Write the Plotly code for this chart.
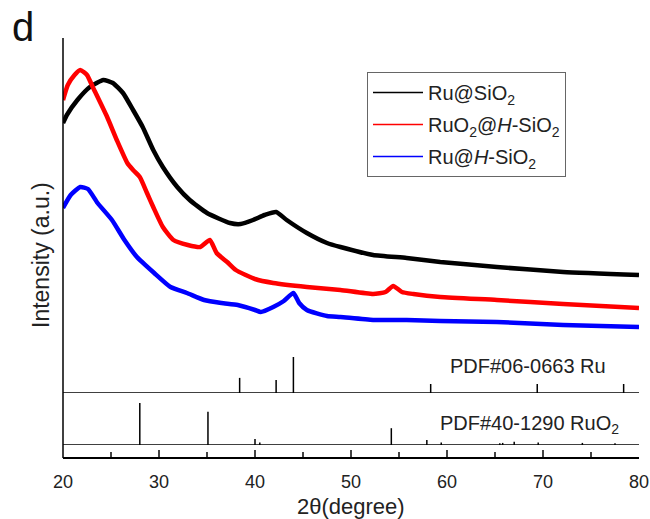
import plotly.graph_objects as go

# ---- data ----
black_x = [20.0, 20.4, 21.5, 22.8, 24.2, 25.2, 26.25, 27.3, 28.3, 29.4, 30.4, 31.9, 33.2, 35.0, 37.4,
           38.5, 39.8, 41.0, 42.2, 43.3, 45.4, 47.5, 48.9, 52.3, 55.8, 59.3, 65.2, 72.1, 80.0]
black_y = [270, 278, 293, 306, 313, 310, 300, 283, 266, 243, 226, 206, 193, 180, 170,
           169, 173, 178, 181, 173, 160, 150, 146, 138, 135, 131, 126, 121, 118]

red_x = [20.0, 20.5, 21.2, 21.8, 22.5, 23.1, 24.6, 25.6, 26.7, 27.3, 28.0, 28.75, 29.4, 30.4, 31.5,
         33.0, 34.3, 35.3, 36.0, 37.1, 38.0, 40.0, 41.9, 45.4, 48.9, 52.3, 53.6, 54.4, 55.3, 56.5,
         59.3, 65.2, 72.1, 80.0]
red_y = [293, 308, 318, 323, 318, 306, 276, 253, 230, 223, 216, 200, 186, 166, 153,
         148, 146, 153, 140, 131, 123, 114, 110, 106, 103, 99, 101, 107, 101, 99,
         96, 93, 89, 85]

blue_x = [20.0, 20.8, 21.8, 22.6, 23.6, 25.1, 26.4, 27.7, 29.5, 31.2, 32.9, 34.7, 36.5, 38.2, 40.0,
          40.6, 41.9, 43.0, 44.0, 44.6, 45.4, 47.5, 48.9, 52.3, 55.8, 59.3, 65.2, 72.1, 80.0]
blue_y = [185, 198, 206, 204, 190, 173, 153, 136, 120, 106, 100, 93, 90, 88, 83,
          81, 86, 92, 100, 90, 83, 77, 76, 73, 73, 72, 71, 68, 66]

ru_pos = [38.4, 42.2, 44.0, 58.3, 69.4, 78.4]
ru_int = [42, 36, 100, 25, 25, 25]

ruo2_pos = [28.0, 35.1, 40.0, 40.5, 54.2, 57.9, 59.4, 65.5, 65.8, 67.0, 69.5, 74.1, 77.5]
ruo2_int = [100, 79, 14, 6, 40, 12, 6, 4, 5, 8, 6, 5, 4]

series_names = ["Ru@SiO<sub>2</sub>", "RuO<sub>2</sub>@<i>H</i>-SiO<sub>2</sub>", "Ru@<i>H</i>-SiO<sub>2</sub>"]
series_colors = ["#000000", "#ff0000", "#0000ff"]
x_ticks = [20, 30, 40, 50, 60, 70, 80]

FONT = "Arial, Liberation Sans, sans-serif"
TXT = "#222222"

# the page body margin is removed below, so figure pixels == target pixels
PL, PR, PT, PB = 63, 639, 38, 458          # plot area in target pixels
W, H = PR - PL, PB - PT


def px(x):
    return (x - PL) / W


def py(y):
    return (PB - y) / H


def sticks(pos, inten):
    xs, ys = [], []
    for p, h in zip(pos, inten):
        xs += [p, p, None]
        ys += [0, h, None]
    return xs, ys


fig = go.Figure()

for xs, ys, c in zip([black_x, red_x, blue_x], [black_y, red_y, blue_y], series_colors):
    fig.add_trace(go.Scatter(x=xs, y=ys, mode="lines",
                             line=dict(color=c, width=4.5, shape="spline", smoothing=0.5),
                             showlegend=False, hoverinfo="skip", yaxis="y"))

# legend-only entries (thin lines)
for i, (n, c) in enumerate(zip(series_names, series_colors)):
    fig.add_trace(go.Scatter(x=[None], y=[None], mode="lines", line=dict(color=c, width=1.5),
                             name=n, legendgroup=f"g{i}", showlegend=True))

sx, sy = sticks(ru_pos, ru_int)
fig.add_trace(go.Scatter(x=sx, y=sy, mode="lines", line=dict(color="black", width=1.5),
                         showlegend=False, yaxis="y2", hoverinfo="skip"))
sx, sy = sticks(ruo2_pos, ruo2_int)
fig.add_trace(go.Scatter(x=sx, y=sy, mode="lines", line=dict(color="black", width=1.5),
                         showlegend=False, yaxis="y3", hoverinfo="skip"))

d_ru = py(393)
d_ruo2 = py(445)

fig.update_layout(
    width=650, height=519,
    margin=dict(l=PL, r=650 - PR, t=PT, b=519 - PB, autoexpand=False),
    paper_bgcolor="white", plot_bgcolor="white",
    font=dict(family=FONT, color=TXT, size=18),
    xaxis=dict(range=[20, 80], tickvals=x_ticks, ticks="inside", ticklen=7, tickwidth=1.5,
               anchor="free", position=0,
               showline=True, linecolor="black", linewidth=1.5, showgrid=False, zeroline=False,
               minor=dict(dtick=5, ticks="inside", ticklen=5, tickwidth=1.5, showgrid=False),
               ticklabelstandoff=8,
               tickfont=dict(size=18, family=FONT, color=TXT)),
    yaxis=dict(domain=[d_ru, 1], range=[0, 355], showticklabels=False, ticks="", showgrid=False,
               zeroline=False, showline=False),
    yaxis2=dict(domain=[d_ru, d_ru + 40 / H], range=[0, 111.1], showticklabels=False, ticks="",
                showgrid=False, zeroline=False, showline=False),
    yaxis3=dict(domain=[d_ruo2, d_ruo2 + 46 / H], range=[0, 109.5], showticklabels=False, ticks="",
                showgrid=False, zeroline=False, showline=False),
    legend=dict(x=px(367), y=py(72), xanchor="left", yanchor="top",
                bordercolor="#666666", borderwidth=1, bgcolor="white",
                font=dict(size=20, family=FONT, color=TXT),
                itemwidth=50, tracegroupgap=3, traceorder="grouped"),
    showlegend=True,
)

# baselines and left axis line
fig.add_shape(type="line", xref="x domain", x0=0, x1=1, yref="y2", y0=0, y1=0,
              line=dict(color="black", width=1.5))
fig.add_shape(type="line", xref="x domain", x0=0, x1=1, yref="y3", y0=0, y1=0,
              line=dict(color="black", width=1.5))
fig.add_shape(type="line", xref="paper", x0=0, x1=0, yref="paper", y0=0, y1=1,
              line=dict(color="black", width=1.5))

fig.add_annotation(text="PDF#06-0663 Ru", xref="paper", yref="paper", x=px(608),
                   y=py(366), xanchor="right", yanchor="middle", showarrow=False,
                   font=dict(size=20, family=FONT, color=TXT))
fig.add_annotation(text="PDF#40-1290 RuO<sub>2</sub>", xref="paper", yref="paper", x=px(621),
                   y=py(424), xanchor="right", yanchor="middle", showarrow=False,
                   font=dict(size=20, family=FONT, color=TXT))
fig.add_annotation(text="Intensity (a.u.)", xref="paper", yref="paper", x=px(41),
                   y=py(255), xanchor="center", yanchor="middle", textangle=-90, showarrow=False,
                   font=dict(size=23, family=FONT, color=TXT))
fig.add_annotation(text="2θ(degree)", xref="paper", yref="paper", x=px(351),
                   y=py(506), xanchor="center", yanchor="middle", showarrow=False,
                   font=dict(size=22, family=FONT, color=TXT))
fig.add_annotation(text="d", xref="paper", yref="paper", x=px(23),
                   y=py(27), xanchor="center", yanchor="middle", showarrow=False,
                   font=dict(size=40, family=FONT, color="#111111"))

fig.write_html("out.html", config={"displayModeBar": False},
               post_script="document.body.style.margin='0px';")
